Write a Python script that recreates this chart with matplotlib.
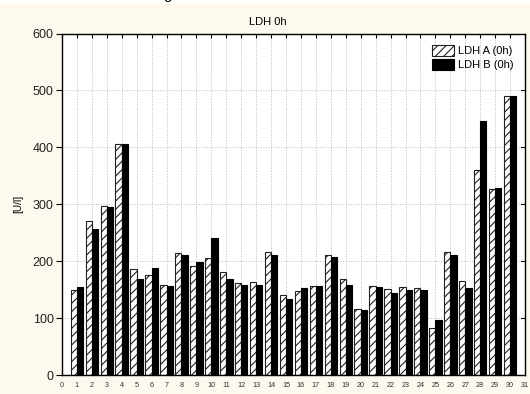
import matplotlib
matplotlib.use('Agg')
import matplotlib.pyplot as plt
import numpy as np

plt.rcParams['font.family'] = ['Liberation Sans', 'DejaVu Sans']
plt.rcParams['hatch.linewidth'] = 0.8

# sample numbers 1..30
samples = list(range(1, 31))
ldh_a = [149, 270, 297, 406, 186, 175, 159, 214, 191, 205,
         181, 161, 163, 216, 141, 147, 157, 211, 168, 116,
         157, 151, 155, 153, 83, 216, 165, 360, 327, 491]
ldh_b = [154, 256, 296, 405, 169, 188, 156, 211, 198, 240,
         168, 159, 158, 210, 134, 152, 157, 207, 159, 114,
         154, 144, 149, 149, 97, 211, 152, 447, 329, 491]
x_ticks = list(range(0, 32))
y_ticks = [0, 100, 200, 300, 400, 500, 600]

bg = '#fef9ee'
fig = plt.figure(figsize=(5.3, 3.94), dpi=100, facecolor=bg)
ax = fig.add_axes([62/530, 1 - 375/394, 463/530, 341.5/394])
ax.set_facecolor('white')

# white strip at the very top with the descender of a cut-off caption
fig.patches.append(plt.Rectangle((0, 1 - 3/394), 1, 3/394, transform=fig.transFigure,
                                 facecolor='white', edgecolor='none', zorder=0))
fig.text(163/530, 1 + 0.5/394, 'g', fontsize=11, ha='left', va='baseline', color='black')

x = np.array(samples)
w = 0.42
ax.bar(x - w/2, ldh_a, width=w, facecolor='white', edgecolor='#222222', hatch='////',
       linewidth=0.8, label='LDH A (0h)', zorder=3)
ax.bar(x + w/2, ldh_b, width=w, facecolor='black', edgecolor='black',
       linewidth=0.8, label='LDH B (0h)', zorder=3)

ax.set_xlim(0, 31)
ax.set_ylim(0, 600)
ax.set_xticks(x_ticks)
ax.set_yticks(y_ticks)
ax.tick_params(axis='x', direction='in', top=True, bottom=False, labelsize=5.2,
               length=3, pad=5, colors='black', labelcolor='#333333')
ax.tick_params(axis='y', direction='out', right=False, labelsize=9, length=4, pad=2,
               labelcolor='#222222')
for yt in y_ticks[1:-1]:
    ax.plot([31 - 0.25, 31], [yt, yt], color='black', lw=0.8, clip_on=False, zorder=4)
ax.grid(True, color='#bbbbbb', linestyle=':', linewidth=0.7, zorder=0)
for s in ax.spines.values():
    s.set_linewidth(1.0)
    s.set_zorder(5)

ax.set_ylabel('[U/l]', fontsize=7.3)
ax.yaxis.set_label_coords(-39/463, 0.5)
fig.text(268/530, 1 - 22/394, 'LDH 0h', fontsize=8, ha='center', va='center')

ax.legend(loc='upper right', fontsize=8, frameon=False, handlelength=2.0,
          handleheight=1.2, borderaxespad=0.6, labelspacing=0.25, handletextpad=0.4)

fig.savefig('out.png', dpi=100, facecolor=bg)
